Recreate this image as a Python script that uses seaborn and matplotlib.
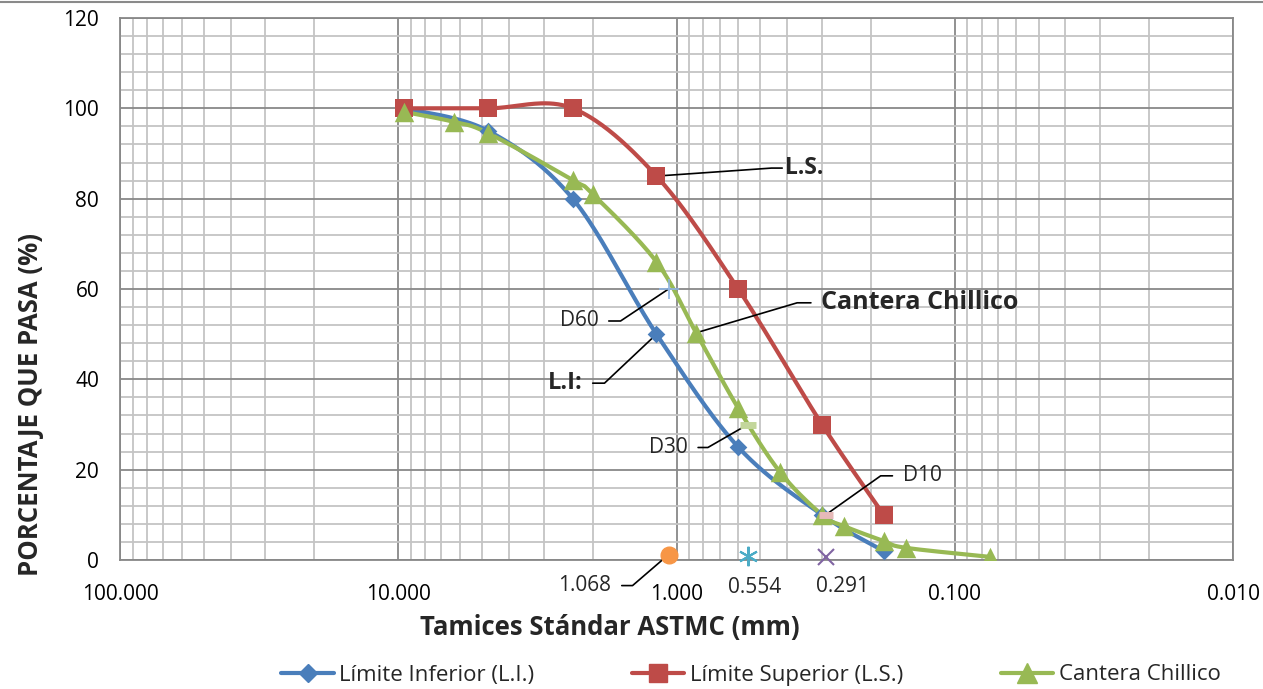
import numpy as np
import matplotlib
matplotlib.use("Agg")
import matplotlib.pyplot as plt
from matplotlib.lines import Line2D
from matplotlib.ticker import FixedLocator, FuncFormatter, NullFormatter
import seaborn as sns

# Grading limits (sieve openings in mm, percent passing)
sieves_lim = [9.5, 4.75, 2.36, 1.18, 0.60, 0.30, 0.18]
lim_inferior = [100, 95, 80, 50, 25, 10, 2]
lim_superior = [100, 100, 100, 85, 60, 30, 10]

# Sample from the quarry
sieves_cant = [9.5, 6.3, 4.75, 2.36, 2.0, 1.18, 0.85, 0.60, 0.425, 0.30, 0.25, 0.18, 0.15, 0.075]
cantera = [99.2, 97.0, 94.5, 84.1, 81.0, 66.0, 50.3, 33.6, 19.5, 10.0, 7.5, 4.2, 2.7, 0.7]

# Characteristic diameters
d_labels = ["D60", "D30", "D10"]
d_values = [1.068, 0.554, 0.291]
d_percent = [60, 30, 10]
d_base = [1.2, 0.8, 0.7]

x_ticks = [100, 10, 1, 0.1, 0.01]
y_ticks = [0, 20, 40, 60, 80, 100, 120]

BLUE = "#4A7EBB"
RED = "#BE4B48"
GREEN = "#98B954"


def smooth(x, y, n=40):
    """Catmull-Rom curve through the points, in log-x space."""
    pts = np.column_stack([np.log10(x), np.asarray(y, float)])
    P = np.vstack([pts[0], pts, pts[-1]])
    t = np.linspace(0, 1, n, endpoint=False)[:, None]
    segs = []
    for i in range(1, len(P) - 2):
        p0, p1, p2, p3 = P[i - 1], P[i], P[i + 1], P[i + 2]
        segs.append(0.5 * (2 * p1 + (-p0 + p2) * t
                           + (2 * p0 - 5 * p1 + 4 * p2 - p3) * t ** 2
                           + (-p0 + 3 * p1 - 3 * p2 + p3) * t ** 3))
    segs.append(pts[-1:])
    out = np.vstack(segs)
    return 10 ** out[:, 0], out[:, 1]


sns.set_theme(style="white")
plt.rcParams["font.family"] = ["Open Sans", "DejaVu Sans"]

fig = plt.figure(figsize=(12.63, 6.89), dpi=100)
W, H = 1263, 689
ax = fig.add_axes([120 / W, 1 - 560 / H, (1233 - 120) / W, (560 - 18) / H])

ax.set_xscale("log")
ax.set_xlim(100, 0.01)
ax.set_ylim(0, 120)

# grid
ax.xaxis.set_major_locator(FixedLocator(x_ticks))
ax.xaxis.set_minor_locator(FixedLocator(
    [m * 10.0 ** e for e in range(-2, 2) for m in range(2, 10)]))
ax.xaxis.set_major_formatter(FuncFormatter(lambda v, p: f"{v:.3f}"))
ax.xaxis.set_minor_formatter(NullFormatter())
ax.yaxis.set_major_locator(FixedLocator(y_ticks))
ax.yaxis.set_minor_locator(FixedLocator(np.arange(0, 121, 4)))
ax.grid(True, which="major", color="#888888", lw=1.3)
ax.grid(True, which="minor", color="#C4C4C4", lw=1.3)
ax.set_axisbelow(True)
for s in ax.spines.values():
    s.set_color("#888888")
    s.set_linewidth(1.3)

ax.tick_params(axis="x", which="major", length=4, color="#888888", width=1.3,
               pad=13, labelsize=15, labelcolor="black")
ax.tick_params(axis="x", which="minor", length=0)
ax.tick_params(axis="y", which="both", length=0, pad=15, labelsize=15,
               labelcolor="black")

# curves
series = [
    (sieves_lim, lim_inferior, BLUE, "D", 9),
    (sieves_lim, lim_superior, RED, "s", 13),
    (sieves_cant, cantera, GREEN, "^", 14),
]
for xs, ys, col, mk, ms in series:
    sx, sy = smooth(xs, ys)
    sns.lineplot(x=sx, y=sy, ax=ax, color=col, lw=3, sort=False,
                 estimator=None, zorder=3)
    sns.scatterplot(x=xs, y=ys, ax=ax, marker=mk, s=ms ** 2, color=col,
                    edgecolor=col, linewidth=0, zorder=4)

# characteristic diameters on the curve
ax.plot(d_values[0], d_percent[0], marker="+", color="#8EB4E3", ms=14,
        mew=1.2, ls="none", zorder=5)
ax.plot(d_values[1], d_percent[1], marker="_", color="#C3D69B", ms=12,
        mew=5, ls="none", zorder=5)
ax.plot(d_values[2], d_percent[2], marker="_", color="#E6B9B8", ms=10,
        mew=5, ls="none", zorder=5)

# characteristic diameters on the x axis
ax.plot(d_values[0], d_base[0], marker="o", color="#F79646", ms=12,
        ls="none", zorder=5, clip_on=False)
ax.plot(d_values[1], d_base[1], marker=(6, 2, 0), color="#4BACC6", ms=14,
        mew=1.5, ls="none", zorder=5, clip_on=False)
ax.plot(d_values[2], d_base[2], marker="x", color="#8064A2", ms=11,
        mew=1.5, ls="none", zorder=5, clip_on=False)

for v, b, off in [(d_values[1], d_base[1], (7, -31)),
                  (d_values[2], d_base[2], (17, -30))]:
    ax.annotate(f"{v:.3f}", xy=(v, b), xytext=off, textcoords="offset pixels",
                ha="center", va="center", fontsize=15, annotation_clip=False)


def leader(text, xy, toff, bend_x, gap=5, bold=False, size=15):
    tx, ty = toff
    ang = np.degrees(np.arctan2(ty, bend_x))
    right = tx > 0
    ax.annotate(text, xy=xy, xytext=(tx, ty), textcoords="offset pixels",
                ha="left" if right else "right", va="center",
                fontsize=size, fontweight="bold" if bold else "normal",
                annotation_clip=False,
                arrowprops=dict(arrowstyle="-", color="black", lw=1.2,
                                shrinkA=gap, shrinkB=0,
                                relpos=(0, 0.5) if right else (1, 0.5),
                                connectionstyle=f"angle,angleA=0,angleB={ang},rad=0"))


leader("L.S.", (sieves_lim[3], lim_superior[3]), (129, 8), 115, gap=0,
       bold=True, size=16.5)
leader("Cantera Chillico", (sieves_cant[6], cantera[6]), (125, 30), 101,
       bold=True, size=18)
leader("L.I:", (sieves_lim[3], lim_inferior[3]), (-74, -49), -52, bold=True,
       size=17)
leader(d_labels[0], (d_values[0], d_percent[0]), (-70, -32), -48)
leader(d_labels[1], (d_values[1], d_percent[1]), (-60, -23), -40)
leader(d_labels[2], (d_values[2], d_percent[2]), (77, 39), 55)
leader(f"{d_values[0]:.3f}", (d_values[0], d_base[0]), (-57, -31), -36)

ax.set_xlabel("Tamices Stándar ASTMC (mm)", fontsize=18.5, fontweight="bold")
ax.set_ylabel("PORCENTAJE QUE PASA (%)", fontsize=18.5, fontweight="bold")
ax.xaxis.set_label_coords((610 - 120) / 1113, (560 - 614) / 542)
ax.yaxis.set_label_coords((44 - 120) / 1113, (560 - 405) / 542)

handles = [
    Line2D([], [], color=BLUE, lw=3, marker="D", ms=9),
    Line2D([], [], color=RED, lw=3, marker="s", ms=13),
    Line2D([], [], color=GREEN, lw=3, marker="^", ms=14),
]
fig.legend(handles, ["Límite Inferior (L.I.)", "Límite Superior (L.S.)",
                     "Cantera Chillico"],
           loc="center", bbox_to_anchor=(751 / W, 1 - 675 / H), ncol=3,
           frameon=False, fontsize=16, handlelength=2.35, handletextpad=0.25,
           columnspacing=4.4, numpoints=1, borderpad=0)

fig.add_artist(Line2D([0, 1], [1 - 2 / H, 1 - 2 / H], color="#8A8A8A", lw=1.5,
                      transform=fig.transFigure))

fig.savefig("out.png", dpi=100, facecolor="white")
